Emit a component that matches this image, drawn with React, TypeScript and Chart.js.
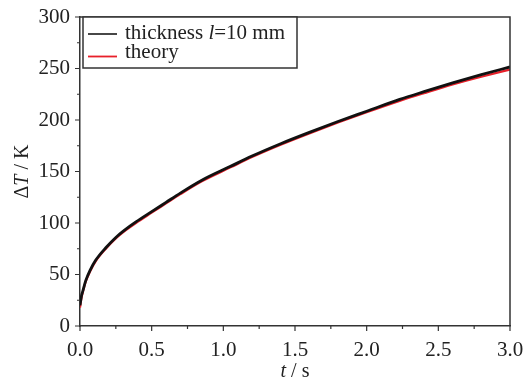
import React, { useEffect, useRef } from "react";
import { Chart, registerables } from "chart.js";

Chart.register(...registerables);

const timeValues = [0, 0.01, 0.02, 0.04, 0.07, 0.11, 0.18, 0.25, 0.32, 0.39, 0.5, 0.6, 0.7, 0.85, 1.05, 1.2, 1.4, 1.6, 1.8, 2.0, 2.23, 2.4, 2.6, 2.8, 3.0];
const measured = [20, 29, 34, 44, 54, 64, 76, 86, 94, 101, 111, 120, 129, 141.5, 155, 165, 177, 188, 198.5, 208.5, 220, 227.5, 236, 244, 251.5];
const theory = [18, 27, 33, 43, 53, 63, 75, 85, 93, 100, 110, 119, 128, 140.5, 154, 164, 176, 187, 197.5, 207.5, 218.5, 226, 234.5, 242, 249];
const xMajor = [0, 0.5, 1.0, 1.5, 2.0, 2.5, 3.0];
const yMajor = [0, 50, 100, 150, 200, 250, 300];

const FONT = "Liberation Serif";
const AXIS = "#333";

function drawPieces(ctx: CanvasRenderingContext2D, pieces: [string, boolean][], x: number, y: number, size: number, align: "left" | "center") {
  let total = 0;
  for (const [t, it] of pieces) {
    ctx.font = `${it ? "italic " : ""}${size}px "${FONT}"`;
    total += ctx.measureText(t).width;
  }
  let cx = align === "center" ? x - total / 2 : x;
  ctx.textAlign = "left";
  for (const [t, it] of pieces) {
    ctx.font = `${it ? "italic " : ""}${size}px "${FONT}"`;
    ctx.fillText(t, cx, y);
    cx += ctx.measureText(t).width;
  }
}

const decor = {
  id: "decor",
  afterDraw(chart: any) {
    const ctx: CanvasRenderingContext2D = chart.ctx;
    const { left, right, top, bottom } = chart.chartArea;
    const xs = chart.scales.x;
    const ys = chart.scales.y;
    ctx.save();
    ctx.strokeStyle = AXIS;
    ctx.lineWidth = 1.5;
    ctx.beginPath();
    ctx.moveTo(left, top);
    ctx.lineTo(right, top);
    ctx.lineTo(right, bottom);
    ctx.stroke();
    // ticks
    ctx.lineWidth = 1.2;
    ctx.beginPath();
    for (let i = 0; i < xMajor.length; i++) {
      const px = xs.getPixelForValue(xMajor[i]);
      ctx.moveTo(px, bottom);
      ctx.lineTo(px, bottom + 5);
      if (i < xMajor.length - 1) {
        const pm = xs.getPixelForValue((xMajor[i] + xMajor[i + 1]) / 2);
        ctx.moveTo(pm, bottom);
        ctx.lineTo(pm, bottom + 3);
      }
    }
    for (let i = 0; i < yMajor.length; i++) {
      const py = ys.getPixelForValue(yMajor[i]);
      ctx.moveTo(left, py);
      ctx.lineTo(left - 5, py);
      if (i < yMajor.length - 1) {
        const pm = ys.getPixelForValue((yMajor[i] + yMajor[i + 1]) / 2);
        ctx.moveTo(left, pm);
        ctx.lineTo(left - 3, pm);
      }
    }
    ctx.stroke();
    // legend
    const lx = left + 3, ly = top, lw = 214, lh = 51;
    ctx.fillStyle = "#fff";
    ctx.fillRect(lx, ly, lw, lh);
    ctx.strokeStyle = AXIS;
    ctx.lineWidth = 1.5;
    ctx.strokeRect(lx, ly, lw, lh);
    ctx.lineWidth = 1.8;
    ctx.strokeStyle = "#333";
    ctx.beginPath();
    ctx.moveTo(lx + 5, ly + 17);
    ctx.lineTo(lx + 34, ly + 17);
    ctx.stroke();
    ctx.strokeStyle = "#e8202a";
    ctx.beginPath();
    ctx.moveTo(lx + 5, ly + 39.5);
    ctx.lineTo(lx + 34, ly + 39.5);
    ctx.stroke();
    ctx.fillStyle = "#222";
    ctx.textBaseline = "alphabetic";
    drawPieces(ctx, [["thickness ", false], ["l", true], ["=10 mm", false]], lx + 42, ly + 21.5, 21, "left");
    drawPieces(ctx, [["theory", false]], lx + 42, ly + 41, 21, "left");
    // axis titles
    drawPieces(ctx, [["t", true], [" / s", false]], (left + right) / 2, 377, 20, "center");
    ctx.translate(28, (top + bottom) / 2);
    ctx.rotate(-Math.PI / 2);
    drawPieces(ctx, [["Δ", false], ["T", true], [" / K", false]], 0, 0, 20, "center");
    ctx.restore();
  },
};

export default function App() {
  const ref = useRef<HTMLCanvasElement>(null);
  useEffect(() => {
    if (!ref.current) return;
    const chart = new Chart(ref.current, {
      type: "line",
      data: {
        datasets: [
          {
            label: "thickness l=10 mm",
            data: timeValues.map((t, i) => ({ x: t, y: measured[i] })),
            borderColor: "#111",
            borderWidth: 2.8,
            pointRadius: 0,
            cubicInterpolationMode: "monotone",
          },
          {
            label: "theory",
            data: timeValues.map((t, i) => ({ x: t, y: theory[i] })),
            borderColor: "#e8202a",
            borderWidth: 2.2,
            pointRadius: 0,
            cubicInterpolationMode: "monotone",
          },
        ],
      },
      options: {
        responsive: false,
        animation: false,
        layout: { padding: { left: 0, top: 17, right: 15, bottom: 0 } },
        plugins: { legend: { display: false }, tooltip: { enabled: false } },
        scales: {
          x: {
            type: "linear",
            min: 0,
            max: 3,
            grid: { display: false, drawTicks: false },
            border: { display: true, color: AXIS, width: 1.5 },
            ticks: {
              stepSize: 0.5,
              autoSkip: false,
              maxRotation: 0,
              padding: 12,
              color: "#222",
              font: { family: FONT, size: 21 },
              callback: (v: any) => Number(v).toFixed(1),
            },
            afterFit: (s: any) => {
              s.height = 54;
              s.paddingLeft = 0;
              s.paddingRight = 0;
            },
          },
          y: {
            min: 0,
            max: 300,
            grid: { display: false, drawTicks: false },
            border: { display: true, color: AXIS, width: 1.5 },
            ticks: {
              stepSize: 50,
              padding: 10,
              color: "#222",
              font: { family: FONT, size: 21 },
            },
            afterFit: (s: any) => {
              s.width = 80;
              s.paddingTop = 0;
              s.paddingBottom = 0;
            },
          },
        },
      },
      plugins: [decor],
    } as any);
    return () => chart.destroy();
  }, []);
  return (
    <div style={{ position: "absolute", left: 0, top: 0, width: 525, height: 380 }}>
      <canvas ref={ref} width={525} height={380} />
    </div>
  );
}
